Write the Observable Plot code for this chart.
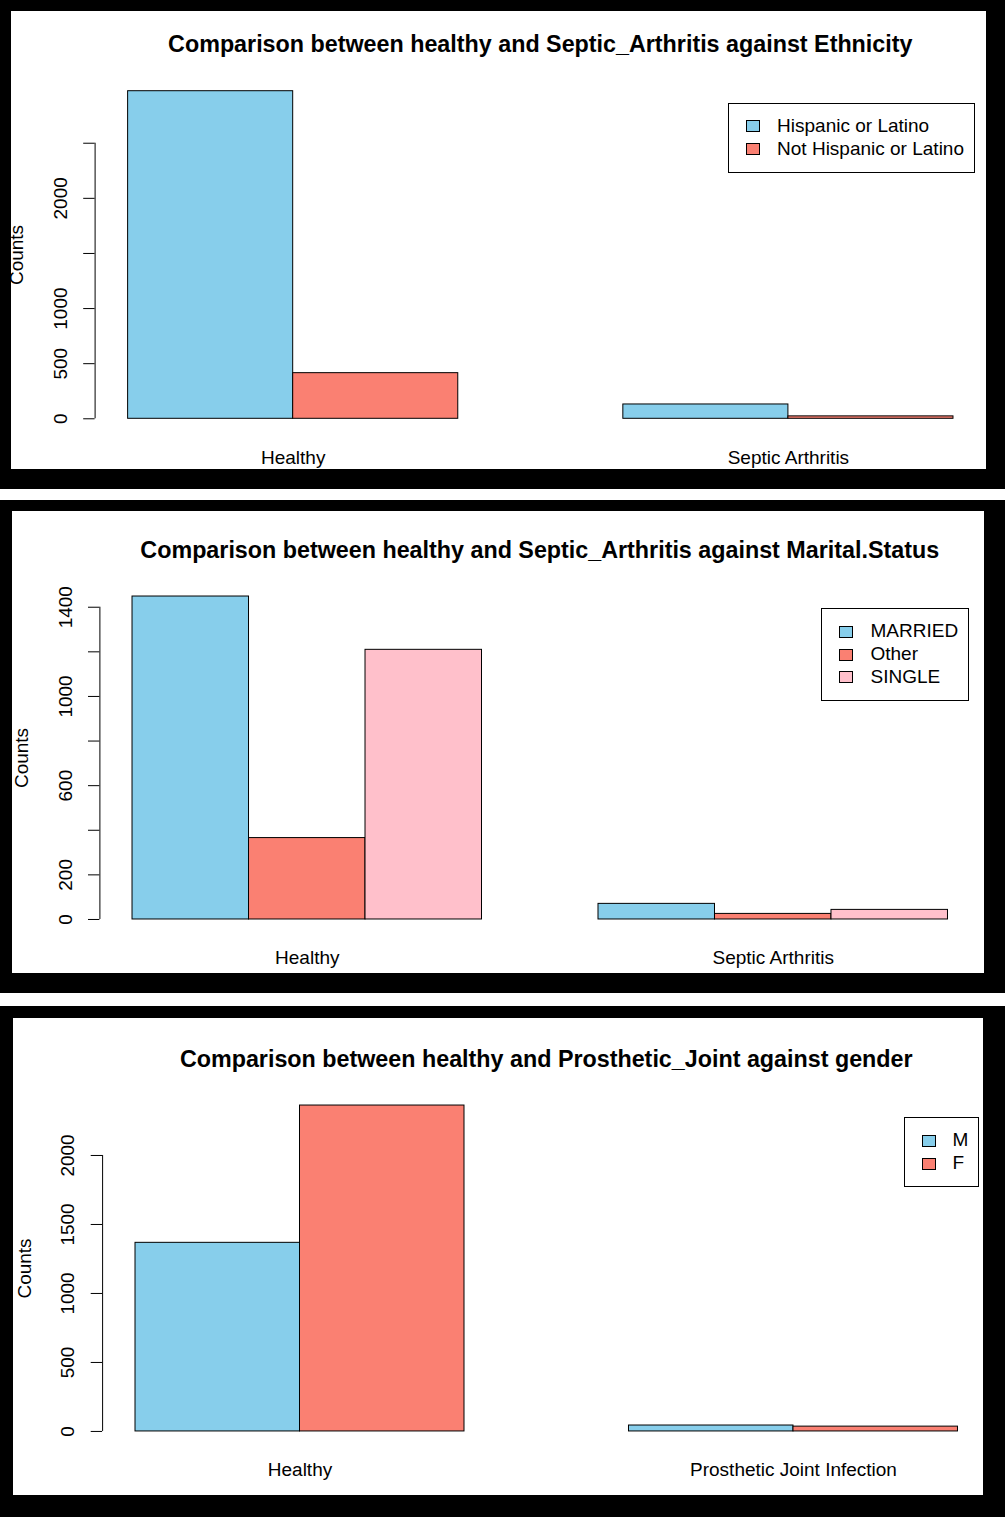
<!DOCTYPE html>
<html>
<head>
<meta charset="utf-8">
<script src="https://cdn.jsdelivr.net/npm/d3@7"></script>
<script src="https://cdn.jsdelivr.net/npm/@observablehq/plot@0.6"></script>
<style>
  html, body { margin: 0; padding: 0; background: #fff; }
  body { width: 1005px; height: 1517px; position: relative; overflow: hidden; font-family: "Liberation Sans", Arial, sans-serif; }
  .frame { position: absolute; left: 0; width: 1005px; background: #000; }
  .panel { position: absolute; background: #fff; overflow: hidden; }
  .panel svg { position: absolute; left: 0; top: 0; }
  .title { position: absolute; font-weight: bold; font-size: 23.3px; line-height: 23px; text-align: center; white-space: nowrap; color: #000; }
  .legend { position: absolute; border: 1px solid #000; padding: 11.4px 10px 11.4px 17px; background: #fff; }
  .legend .row { display: flex; align-items: center; height: 22.8px; font-size: 19px; line-height: 22.8px; white-space: nowrap; color: #000; }
  .legend .sw { width: 14px; height: 12px; box-sizing: border-box; border: 1px solid #000; margin-right: 17px; flex: none; }
</style>
</head>
<body>
<script>
// Ethnicity counts per group
const ethnicityGroups = ["Healthy", "Septic Arthritis"];
const ethnicitySeries = ["Hispanic or Latino", "Not Hispanic or Latino"];
const ethnicityHealthy = [2972, 414];
const ethnicitySeptic = [130, 22];
const ethnicityTicks = [0, 500, 1000, 1500, 2000, 2500];
const ethnicityTickLabels = ["0", "500", "1000", "", "2000", ""];

// Marital status counts per group
const maritalGroups = ["Healthy", "Septic Arthritis"];
const maritalSeries = ["MARRIED", "Other", "SINGLE"];
const maritalHealthy = [1448, 365, 1209];
const maritalSeptic = [70, 25, 43];
const maritalTicks = [0, 200, 400, 600, 800, 1000, 1200, 1400];
const maritalTickLabels = ["0", "200", "", "600", "", "1000", "", "1400"];

// Gender counts per group
const genderGroups = ["Healthy", "Prosthetic Joint Infection"];
const genderSeries = ["M", "F"];
const genderHealthy = [1367, 2362];
const genderInfection = [43, 35];
const genderTicks = [0, 500, 1000, 1500, 2000];
const genderTickLabels = ["0", "500", "1000", "1500", "2000"];

const twoColors = ["skyblue", "salmon"];
const threeColors = ["skyblue", "salmon", "pink"];

const panels = [
  {
    title: "Comparison between healthy and Septic_Arthritis against Ethnicity",
    groups: ethnicityGroups, series: ethnicitySeries,
    values: [ethnicityHealthy, ethnicitySeptic],
    ticks: ethnicityTicks, tickLabels: ethnicityTickLabels, colors: twoColors,
    frame: {top: 0, height: 489},
    panel: {left: 11, top: 11, width: 975, height: 458},
    svgWidth: 975,
    margin: {top: 66.6, right: 0, bottom: 37.6, left: 83.6}
  },
  {
    title: "Comparison between healthy and Septic_Arthritis against Marital.Status",
    groups: maritalGroups, series: maritalSeries,
    values: [maritalHealthy, maritalSeptic],
    ticks: maritalTicks, tickLabels: maritalTickLabels, colors: threeColors,
    frame: {top: 500, height: 493},
    panel: {left: 12, top: 11, width: 972, height: 462},
    svgWidth: 972,
    margin: {top: 72.1, right: 3.9, bottom: 41.1, left: 87.4}
  },
  {
    title: "Comparison between healthy and Prosthetic_Joint against gender",
    groups: genderGroups, series: genderSeries,
    values: [genderHealthy, genderInfection],
    ticks: genderTicks, tickLabels: genderTickLabels, colors: twoColors,
    frame: {top: 1006, height: 511},
    panel: {left: 13, top: 12, width: 970, height: 477},
    svgWidth: 977.4,
    margin: {top: 74, right: 0, bottom: 51, left: 89.1}
  }
];

function drawPanel(cfg) {
  const n = cfg.series.length;
  const G = cfg.groups.length;

  // side-by-side bars: unit width, one unit of space before each group
  const rows = cfg.groups.flatMap((g, gi) =>
    cfg.series.map((s, si) => ({
      group: g, series: s, count: cfg.values[gi][si],
      x1: gi * (n + 1) + 1 + si,
      x2: gi * (n + 1) + 2 + si
    }))
  );
  const span = G * (n + 1) - 1;
  const xDomain = [1 - 0.04 * span, 1 + span + 0.04 * span];
  const maxCount = d3.max(rows, d => d.count);
  const yDomain = [-0.04 * maxCount, 1.04 * maxCount];
  const centers = cfg.groups.map((g, gi) => gi * (n + 1) + 1 + n / 2);
  const groupAt = new Map(centers.map((c, i) => [c, cfg.groups[i]]));
  const tickLabelAt = new Map(cfg.ticks.map((t, i) => [t, cfg.tickLabels[i]]));

  const chart = Plot.plot({
    width: cfg.svgWidth,
    height: cfg.panel.height,
    marginTop: cfg.margin.top,
    marginRight: cfg.margin.right,
    marginBottom: cfg.margin.bottom,
    marginLeft: cfg.margin.left,
    style: {
      fontFamily: "'Liberation Sans', Arial, sans-serif",
      fontSize: "19px",
      color: "#000",
      background: "transparent",
      maxWidth: "none",
      overflow: "visible"
    },
    x: {domain: xDomain},
    y: {domain: yDomain},
    color: {domain: cfg.series, range: cfg.colors},
    marks: [
      Plot.rect(rows, {x1: "x1", x2: "x2", y1: 0, y2: "count", fill: "series", stroke: "#000", strokeWidth: 1}),
      Plot.ruleX([xDomain[0]], {y1: cfg.ticks[0], y2: cfg.ticks[cfg.ticks.length - 1], stroke: "#000"}),
      Plot.axisY({
        ticks: cfg.ticks,
        tickFormat: d => tickLabelAt.get(d),
        tickSize: 11.4,
        tickPadding: 17,
        tickRotate: -90,
        textAnchor: "middle",
        lineAnchor: "bottom",
        label: null
      }),
      Plot.axisX({
        ticks: centers,
        tickFormat: d => groupAt.get(d),
        tickSize: 0,
        tickPadding: 18.5,
        label: null
      }),
      Plot.text(["Counts"], {
        text: d => d, frameAnchor: "left", rotate: -90, dx: -72,
        textAnchor: "middle", lineAnchor: "bottom", fill: "#000"
      })
    ]
  });

  const frame = document.createElement("div");
  frame.className = "frame";
  frame.style.top = cfg.frame.top + "px";
  frame.style.height = cfg.frame.height + "px";
  document.body.appendChild(frame);

  const panel = document.createElement("div");
  panel.className = "panel";
  panel.style.left = cfg.panel.left + "px";
  panel.style.top = cfg.panel.top + "px";
  panel.style.width = cfg.panel.width + "px";
  panel.style.height = cfg.panel.height + "px";
  frame.appendChild(panel);
  panel.appendChild(chart);

  // title centred over the plotting region
  const regionRight = cfg.svgWidth - cfg.margin.right;
  const title = document.createElement("div");
  title.className = "title";
  title.textContent = cfg.title;
  title.style.left = cfg.margin.left + "px";
  title.style.width = (regionRight - cfg.margin.left) + "px";
  title.style.top = (cfg.margin.top - 44.3) + "px";
  panel.appendChild(title);

  // boxed legend near the top-right corner of the plotting region
  const color = chart.scale("color");
  const legend = document.createElement("div");
  legend.className = "legend";
  legend.style.top = (cfg.margin.top + 25) + "px";
  legend.style.right = (cfg.panel.width - (regionRight - 11)) + "px";
  for (const s of cfg.series) {
    const row = document.createElement("div");
    row.className = "row";
    const sw = document.createElement("span");
    sw.className = "sw";
    sw.style.background = color.apply(s);
    const label = document.createElement("span");
    label.textContent = s;
    row.appendChild(sw);
    row.appendChild(label);
    legend.appendChild(row);
  }
  panel.appendChild(legend);
}

panels.forEach(drawPanel);
</script>
</body>
</html>
